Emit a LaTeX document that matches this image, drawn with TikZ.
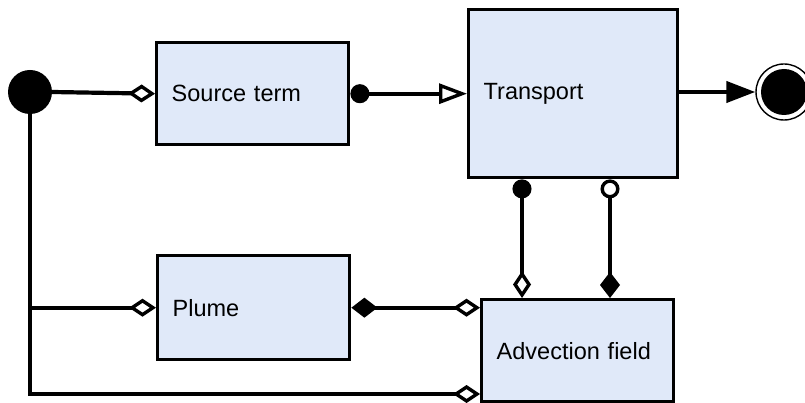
\documentclass[tikz,border=0pt]{standalone}
\usepackage{fontspec}
\setmainfont{Liberation Sans}
\usetikzlibrary{arrows.meta}
\definecolor{boxfill}{RGB}{224,233,249}
\begin{document}
\begin{tikzpicture}[x=1pt,y=-1pt,
  box/.style={draw=black, line width=3.4pt, fill=boxfill, rectangle, anchor=north west,
    inner xsep=15pt, align=left, font=\fontsize{23.5}{28}\selectfont},
  conn/.style={line width=4.2pt, draw=black},
  opendia/.tip={Diamond[fill=white, length=27pt, width=18pt, line width=3.4pt]},
  filldia/.tip={Diamond[length=26pt, width=20pt]},
  dottip/.tip={Circle[length=19pt]},
  opencirc/.tip={Circle[fill=white, length=19pt, line width=3.4pt]},
  opentri/.tip={Triangle[fill=white, length=28pt, width=20pt, line width=3.4pt]},
  filltri/.tip={Triangle[length=29pt, width=21pt]}]
\useasboundingbox (0,0) rectangle (805,403);
% boxes
\node[box, minimum width=192pt, minimum height=102pt, text width=162pt] (source) at (155,41) {Source term};
\node[box, minimum width=209pt, minimum height=168pt, text width=179pt] (transport) at (467,8) {Transport};
\node[box, minimum width=192pt, minimum height=104pt, text width=162pt] (plume) at (156,254) {Plume};
\node[box, minimum width=192pt, minimum height=102pt, text width=162pt] (adv) at (480,298) {Advection field};
% start and end
\node[circle, fill=black, minimum size=44pt, inner sep=0pt] (start) at (30,92) {};
\node[circle, draw=black, line width=1.4pt, minimum size=56pt, inner sep=0pt] (end) at (784,92) {};
\fill[black] (end.center) circle (23pt);
% helper coordinates
\coordinate (v1) at (522,0);
\coordinate (v2) at (610,0);
\coordinate (advlow) at (480,394);
% connectors
\draw[conn, -opendia] (start.east) -- (source.west);
\draw[conn, dottip-opentri] (source.east) -- (source.east -| transport.west);
\draw[conn, -filltri] (transport.east |- end.west) -- (end.west);
\draw[conn, dottip-opendia] (v1 |- transport.south) -- (v1 |- adv.north);
\draw[conn, opencirc-filldia] (v2 |- transport.south) -- (v2 |- adv.north);
\draw[conn, -opendia] (start |- plume.west) -- (plume.west);
\draw[conn, filldia-opendia] (plume.east) -- (plume.east -| adv.west);
\draw[conn, -opendia] (start.south) |- (advlow);
\end{tikzpicture}
\end{document}
